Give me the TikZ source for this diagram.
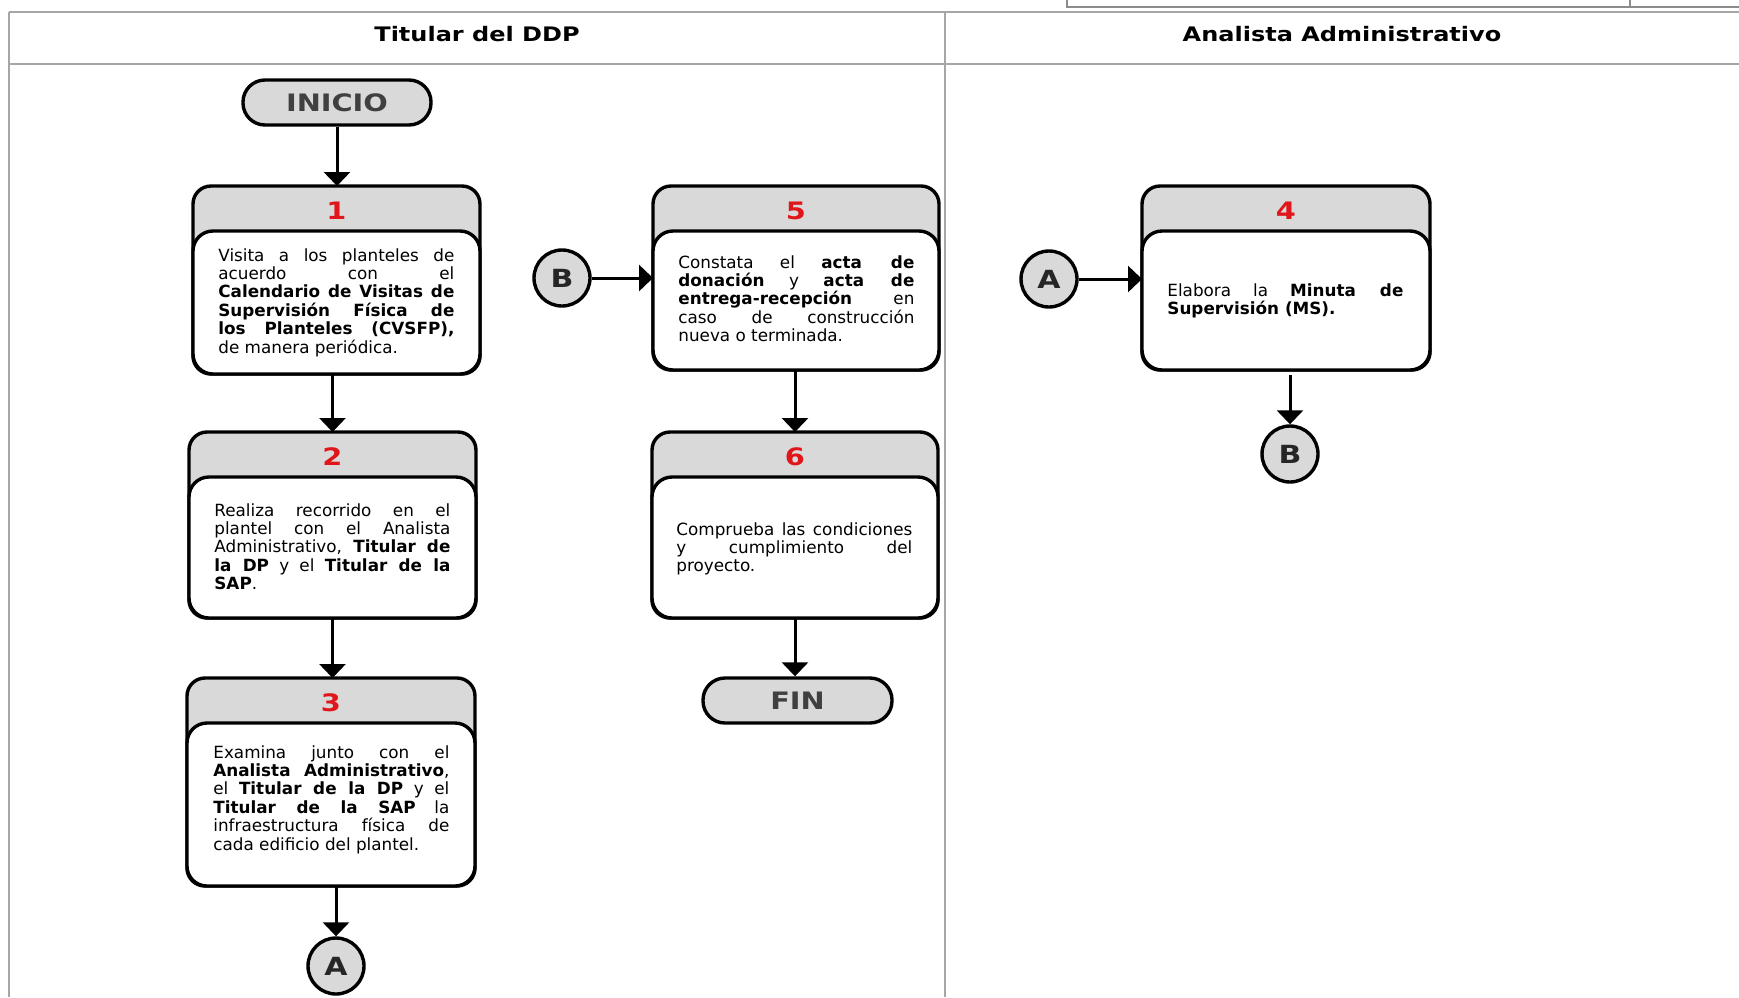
\documentclass[tikz,border=0pt]{standalone}
\usepackage{fontspec}
\setmainfont{DejaVu Sans}
\newfontfamily\widefont{DejaVu Sans}[FakeStretch=1.2]
\usetikzlibrary{arrows.meta}

\definecolor{laneline}{HTML}{A6A6A6}
\definecolor{tableline}{HTML}{8C8C8C}
\definecolor{cardgray}{HTML}{D9D9D9}
\definecolor{numred}{HTML}{E0161B}
\definecolor{termtext}{HTML}{404040}

% justified and last lines of the activity descriptions
\newlength{\cardtw}\setlength{\cardtw}{118pt}
\newcommand{\jline}[1]{\makebox[\cardtw][s]{#1}}
\newcommand{\lline}[1]{\makebox[\cardtw][l]{#1}}

\tikzset{
  lane/.style={draw=laneline, line width=1.4pt},
  card/.style={rectangle, draw, line width=1.7pt, fill=cardgray, rounded corners=9pt,
               inner sep=0pt, outer sep=0pt},
  cardbody/.style={draw, line width=1.7pt, fill=white, rounded corners=10pt},
  cardnum/.style={font=\widefont\bfseries\fontsize{12}{12}\selectfont, text=numred, inner sep=0pt},
  cardtext/.style={anchor=north west, inner sep=0pt, align=left,
                   font=\fontsize{8.4}{9.2}\selectfont},
  terminal/.style={rectangle, draw, line width=1.7pt, fill=cardgray, rounded corners=11pt,
                   minimum width=94pt, minimum height=22.5pt, inner sep=0pt,
                   font=\widefont\bfseries\fontsize{12}{12}\selectfont, text=termtext},
  jump/.style={circle, draw, line width=1.7pt, fill=cardgray, minimum size=28pt, inner sep=0pt,
               font=\widefont\bfseries\fontsize{12.5}{12.5}\selectfont, text=black!85},
  flow/.style={line width=1.5pt, -{Triangle[width=13pt,length=7pt]}},
  lanetitle/.style={font=\widefont\bfseries\fontsize{10}{12}\selectfont},
}

% activity card: name, centre, width (px), height (px), number
\newcommand{\stepcard}[5]{%
  \node[card, minimum width=#3*0.5pt, minimum height=#4*0.5pt] (#1) at (#2) {};
  \draw[cardbody] (#1.south west) rectangle ([yshift=-22.5pt]#1.north east);
  \node[cardnum] (#1n) at ([yshift=-12.5pt]#1.north) {#5};
}

\begin{document}
\begin{tikzpicture}[x=0.5pt, y=-0.5pt]
\useasboundingbox (0,0) rectangle (1739,997);

% table strip above the lanes
\draw[tableline, line width=0.6pt] (1067,0) -- (1067,7) -- (1739,7);
\draw[tableline, line width=0.6pt] (1630,0) -- (1630,7);

% swimlane grid
\draw[lane] (9,12) -- (1739,12);
\draw[lane] (9,64) -- (1739,64);
\draw[lane] (9,12) -- (9,997);
\draw[lane] (945,12) -- (945,997);

\node[lanetitle] (lane1) at (477,34) {Titular del DDP};
\node[lanetitle] (lane2) at (1342,34) {Analista Administrativo};

% terminals
\node[terminal] (start) at (337,102.5) {INICIO};
\node[terminal, minimum width=94.5pt] (stop) at (797.5,700.5) {FIN};

% activities
\stepcard{p1}{336.5,280}{287}{188}{1}
\stepcard{p2}{332.5,525}{287}{186}{2}
\stepcard{p3}{331,782}{288}{208}{3}
\stepcard{p5}{796,278}{286}{184}{5}
\stepcard{p6}{795,525}{286}{186}{6}
\stepcard{p4}{1286,278}{288}{184}{4}

\node[cardtext] (t1) at (218,248) {%
  \jline{Visita a los planteles de}\\
  \jline{acuerdo con el}\\
  \jline{\textbf{Calendario de Visitas de}}\\
  \jline{\textbf{Supervisión Física de}}\\
  \jline{\textbf{los Planteles (CVSFP),}}\\
  \lline{de manera periódica.}};

\node[cardtext] (t2) at (214,503) {%
  \jline{Realiza recorrido en el}\\
  \jline{plantel con el Analista}\\
  \jline{Administrativo, \textbf{Titular de}}\\
  \jline{\textbf{la DP} y el \textbf{Titular de la}}\\
  \lline{\textbf{SAP}.}};

\node[cardtext] (t3) at (213,745) {%
  \jline{Examina junto con el}\\
  \jline{\textbf{Analista Administrativo},}\\
  \jline{el \textbf{Titular de la DP} y el}\\
  \jline{\textbf{Titular de la SAP} la}\\
  \jline{infraestructura física de}\\
  \lline{cada edificio del plantel.}};

\node[cardtext] (t5) at (678,255) {%
  \jline{Constata el \textbf{acta de}}\\
  \jline{\textbf{donación} y \textbf{acta de}}\\
  \jline{\textbf{entrega-recepción} en}\\
  \jline{caso de construcción}\\
  \lline{nueva o terminada.}};

\node[cardtext] (t6) at (676,522) {%
  \jline{Comprueba las condiciones}\\
  \jline{y cumplimiento del}\\
  \lline{proyecto.}};

\node[cardtext] (t4) at (1167,283) {%
  \jline{Elabora la \textbf{Minuta de}}\\
  \lline{\textbf{Supervisión (MS).}}};

% off-page connectors
\node[jump] (ja1) at (336,966) {A};
\node[jump] (jb1) at (562,278) {B};
\node[jump] (ja2) at (1049,279) {A};
\node[jump] (jb2) at (1290,454) {B};

% flow
\draw[flow] (start.south) -- (start.south |- p1.north);
\draw[flow] (p2.north |- p1.south) -- (p2.north);
\draw[flow] (p2.south) -- (p2.south |- p3.north);
\draw[flow] (ja1.north |- p3.south) -- (ja1.north);
\draw[flow] (jb1.east) -- (jb1.east -| p5.west);
\draw[flow] (p6.north |- p5.south) -- (p6.north);
\draw[flow] (p6.south) -- (p6.south |- stop.north);
\draw[flow] (ja2.east) -- (ja2.east -| p4.west);
\draw[flow, shorten <=2.5pt] (jb2.north |- p4.south) -- (jb2.north);

\end{tikzpicture}
\end{document}
